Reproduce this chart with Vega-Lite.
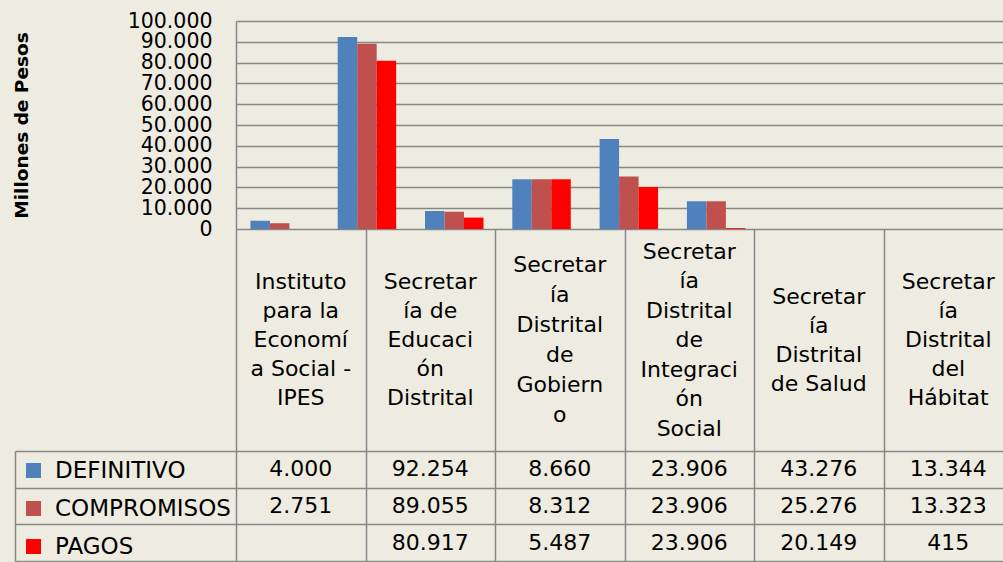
{
  "$schema": "https://vega.github.io/schema/vega-lite/v6.json",
  "background": "#EEECE1",
  "padding": {"left": 12, "top": 11, "right": 0, "bottom": 0},
  "spacing": 0,
  "bounds": "flush",
  "config": {
    "locale": {"number": {"decimal": ",", "thousands": ".", "grouping": [3], "currency": ["$", ""]}},
    "view": {"stroke": null},
    "font": "DejaVu Sans"
  },
  "datasets": {
    "vals": [
      {"cat": "Instituto para la Economía Social - IPES", "series": "DEFINITIVO", "value": 4000},
      {"cat": "Instituto para la Economía Social - IPES", "series": "COMPROMISOS", "value": 2751},
      {"cat": "Secretaría de Educación Distrital", "series": "DEFINITIVO", "value": 92254},
      {"cat": "Secretaría de Educación Distrital", "series": "COMPROMISOS", "value": 89055},
      {"cat": "Secretaría de Educación Distrital", "series": "PAGOS", "value": 80917},
      {"cat": "Secretaría Distrital de Gobierno", "series": "DEFINITIVO", "value": 8660},
      {"cat": "Secretaría Distrital de Gobierno", "series": "COMPROMISOS", "value": 8312},
      {"cat": "Secretaría Distrital de Gobierno", "series": "PAGOS", "value": 5487},
      {"cat": "Secretaría Distrital de Integración Social", "series": "DEFINITIVO", "value": 23906},
      {"cat": "Secretaría Distrital de Integración Social", "series": "COMPROMISOS", "value": 23906},
      {"cat": "Secretaría Distrital de Integración Social", "series": "PAGOS", "value": 23906},
      {"cat": "Secretaría Distrital de Salud", "series": "DEFINITIVO", "value": 43276},
      {"cat": "Secretaría Distrital de Salud", "series": "COMPROMISOS", "value": 25276},
      {"cat": "Secretaría Distrital de Salud", "series": "PAGOS", "value": 20149},
      {"cat": "Secretaría Distrital del Hábitat", "series": "DEFINITIVO", "value": 13344},
      {"cat": "Secretaría Distrital del Hábitat", "series": "COMPROMISOS", "value": 13323},
      {"cat": "Secretaría Distrital del Hábitat", "series": "PAGOS", "value": 415}
    ],
    "cats": [
      {"cat": "Instituto para la Economía Social - IPES", "label": "Instituto\npara la\nEconomí\na Social -\nIPES"},
      {"cat": "Secretaría de Educación Distrital", "label": "Secretar\nía de\nEducaci\nón\nDistrital"},
      {"cat": "Secretaría Distrital de Gobierno", "label": "Secretar\nía\nDistrital\nde\nGobiern\no"},
      {"cat": "Secretaría Distrital de Integración Social", "label": "Secretar\nía\nDistrital\nde\nIntegraci\nón\nSocial"},
      {"cat": "Secretaría Distrital de Salud", "label": "Secretar\nía\nDistrital\nde Salud"},
      {"cat": "Secretaría Distrital del Hábitat", "label": "Secretar\nía\nDistrital\ndel\nHábitat"}
    ]
  },
  "vconcat": [
    {
      "width": 767,
      "height": 208,
      "data": {"name": "vals"},
      "mark": {"type": "bar"},
      "encoding": {
        "x": {
          "field": "cat", "type": "nominal",
          "scale": {
            "domain": ["Instituto para la Economía Social - IPES", "Secretaría de Educación Distrital", "Secretaría Distrital de Gobierno", "Secretaría Distrital de Integración Social", "Secretaría Distrital de Salud", "Secretaría Distrital del Hábitat", " ", "  "],
            "paddingInner": 0, "paddingOuter": 0.393, "align": 0
          },
          "axis": null
        },
        "xOffset": {
          "field": "series", "type": "nominal",
          "sort": ["DEFINITIVO", "COMPROMISOS", "PAGOS"],
          "scale": {"paddingInner": 0, "paddingOuter": 0.74}
        },
        "y": {
          "field": "value", "type": "quantitative",
          "scale": {"domain": [0, 100000], "nice": false},
          "axis": {
            "values": [0, 10000, 20000, 30000, 40000, 50000, 60000, 70000, 80000, 90000, 100000],
            "format": ",d",
            "grid": true, "gridColor": "#878787", "gridWidth": 1.5,
            "domainColor": "#878787", "domainWidth": 1.5,
            "ticks": false,
            "labelPadding": 24, "labelFontSize": 20.5, "labelColor": "#000000",
            "labelOverlap": false,
            "title": "Millones de Pesos",
            "titleFontSize": 18.5, "titleFontWeight": "bold", "titleColor": "#000000",
            "titleX": -215, "titleY": 104, "titleBaseline": "middle"
          }
        },
        "color": {
          "field": "series", "type": "nominal",
          "scale": {"domain": ["DEFINITIVO", "COMPROMISOS", "PAGOS"], "range": ["#4F81BD", "#C0504D", "#FF0000"]},
          "legend": {
            "orient": "none", "legendX": -214, "legendY": 438,
            "direction": "vertical", "title": null,
            "symbolType": "square", "symbolSize": 225, "symbolStrokeWidth": 0,
            "labelFontSize": 23, "labelColor": "#000000", "labelOffset": 10,
            "rowPadding": 14, "padding": 0, "labelLimit": 400
          }
        }
      }
    },
    {
      "width": 767,
      "height": 222,
      "data": {"name": "cats"},
      "encoding": {
        "x": {
          "field": "cat", "type": "nominal",
          "sort": ["Instituto para la Economía Social - IPES", "Secretaría de Educación Distrital", "Secretaría Distrital de Gobierno", "Secretaría Distrital de Integración Social", "Secretaría Distrital de Salud", "Secretaría Distrital del Hábitat"],
          "scale": {"range": [0, 777], "paddingInner": 0, "paddingOuter": 0},
          "axis": {"orient": "top", "grid": true, "gridColor": "#878787", "gridWidth": 1.5, "tickBand": "extent", "labels": false, "ticks": false, "domain": false, "title": null}
        },
        "text": {"field": "label"}
      },
      "layer": [
        {
          "transform": [{"filter": {"field": "cat", "oneOf": ["Secretaría Distrital de Salud"]}}],
          "mark": {"type": "text", "lineBreak": "\n", "fontSize": 22, "lineHeight": 29, "baseline": "middle", "dy": -43.5, "color": "#000000"}
        },
        {
          "transform": [{"filter": {"field": "cat", "oneOf": ["Instituto para la Economía Social - IPES", "Secretaría de Educación Distrital", "Secretaría Distrital del Hábitat"]}}],
          "mark": {"type": "text", "lineBreak": "\n", "fontSize": 22, "lineHeight": 29, "baseline": "middle", "dy": -58, "color": "#000000"}
        },
        {
          "transform": [{"filter": {"field": "cat", "oneOf": ["Secretaría Distrital de Gobierno"]}}],
          "mark": {"type": "text", "lineBreak": "\n", "fontSize": 22, "lineHeight": 30, "baseline": "middle", "dy": -75, "color": "#000000"}
        },
        {
          "transform": [{"filter": {"field": "cat", "oneOf": ["Secretaría Distrital de Integración Social"]}}],
          "mark": {"type": "text", "lineBreak": "\n", "fontSize": 22, "lineHeight": 29.5, "baseline": "middle", "dy": -88.5, "color": "#000000"}
        }
      ]
    },
    {
      "width": 767,
      "height": 110,
      "data": {"name": "vals"},
      "mark": {"type": "text", "fontSize": 22, "baseline": "middle", "color": "#000000"},
      "encoding": {
        "x": {
          "field": "cat", "type": "nominal",
          "sort": ["Instituto para la Economía Social - IPES", "Secretaría de Educación Distrital", "Secretaría Distrital de Gobierno", "Secretaría Distrital de Integración Social", "Secretaría Distrital de Salud", "Secretaría Distrital del Hábitat"],
          "scale": {"range": [0, 777], "paddingInner": 0, "paddingOuter": 0},
          "axis": {"orient": "top", "grid": true, "gridColor": "#878787", "gridWidth": 1.5, "tickBand": "extent", "labels": false, "ticks": false, "domain": false, "title": null}
        },
        "y": {
          "field": "series", "type": "nominal",
          "sort": ["DEFINITIVO", "COMPROMISOS", "PAGOS"],
          "scale": {"paddingInner": 0, "paddingOuter": 0},
          "axis": {
            "offset": 221, "labels": false, "title": null,
            "ticks": true, "tickSize": -221, "tickBand": "extent", "tickColor": "#878787", "tickWidth": 1.5,
            "domain": true, "domainColor": "#878787", "domainWidth": 1.5,
            "grid": true, "gridColor": "#878787", "gridWidth": 1.5
          }
        },
        "text": {"field": "value", "type": "quantitative", "format": ",d"}
      }
    }
  ]
}
